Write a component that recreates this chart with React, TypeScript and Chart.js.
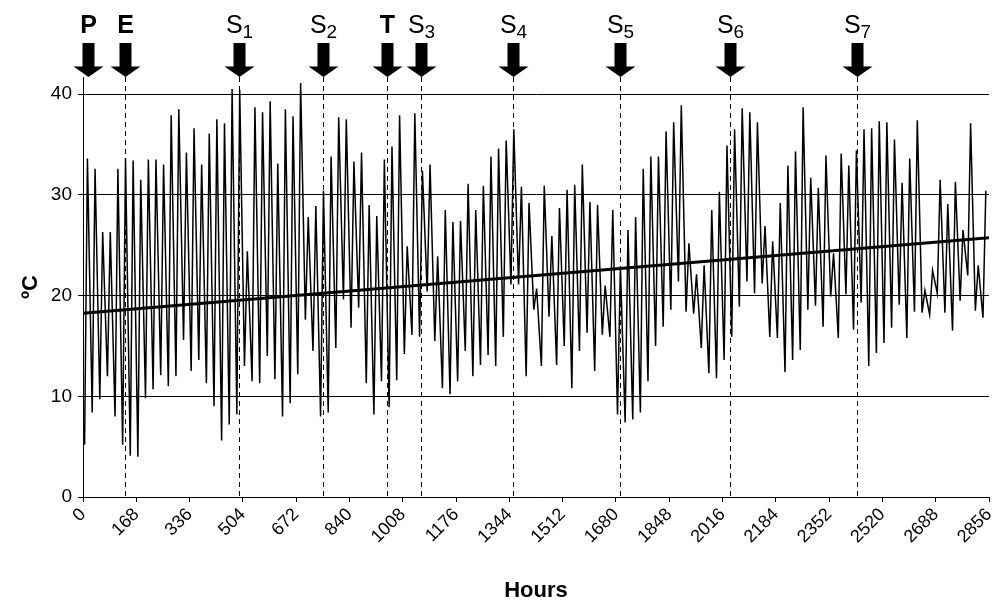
import React, { useEffect, useRef } from 'react';
import { Chart, registerables } from 'chart.js';

Chart.register(...registerables);

// Daily minimum (early morning) temperatures, ºC, day 0..118
const dayMin = [
  5.2, 8.4, 9.7, 12.0, 8.0, 5.2, 4.1, 4.0, 9.8, 10.7,
  12.1, 11.0, 12.0, 15.6, 12.5, 13.6, 11.3, 9.0, 5.6, 7.2,
  8.2, 13.0, 11.5, 11.3, 14.0, 11.7, 8.0, 9.3, 12.2, 17.6,
  14.5, 8.0, 8.4, 14.8, 19.6, 16.8, 18.8, 11.3, 8.2, 11.5,
  8.9, 11.6, 14.2, 16.1, 15.9, 20.4, 15.5, 10.8, 10.2, 11.5,
  14.5, 12.0, 13.1, 14.1, 13.0, 15.9, 21.1, 21.1, 12.0, 18.6,
  13.0, 17.9, 13.1, 15.0, 10.8, 14.5, 16.3, 12.5, 16.1, 15.9,
  8.2, 7.4, 7.7, 8.4, 11.5, 15.0, 16.9, 18.6, 21.4, 18.4,
  18.2, 14.8, 12.3, 11.8, 13.6, 15.9, 18.9, 21.4, 20.2, 21.2,
  15.9, 15.8, 12.4, 13.6, 14.6, 18.6, 19.0, 16.9, 19.9, 15.8,
  20.1, 16.6, 19.3, 13.0, 14.3, 15.3, 16.8, 19.1, 15.8, 18.4,
  18.3, 18.1, 20.2, 18.3, 16.5, 19.5, 22.0, 18.5, 17.8,
];

// Daily maximum (afternoon) temperatures, ºC, day 0..118
const dayMax = [
  33.6, 32.6, 26.3, 26.3, 32.6, 33.6, 33.4, 31.5, 33.5, 33.5,
  33.0, 37.9, 38.5, 34.2, 36.6, 33.0, 36.1, 37.5, 37.1, 40.5,
  40.4, 24.4, 38.7, 38.2, 39.3, 33.1, 38.5, 37.8, 41.1, 27.8,
  28.9, 30.4, 33.8, 37.7, 37.5, 33.3, 34.2, 29.0, 27.9, 33.5,
  34.8, 37.9, 24.9, 38.1, 32.4, 33.0, 23.9, 28.5, 27.3, 27.4,
  31.1, 28.5, 30.9, 33.8, 34.6, 35.4, 36.5, 30.8, 29.2, 20.7,
  30.9, 25.9, 28.7, 30.5, 31.0, 33.0, 29.3, 29.0, 21.0, 28.5,
  22.9, 26.5, 27.8, 32.6, 33.8, 33.8, 36.3, 37.2, 38.9, 25.2,
  22.1, 23.0, 28.5, 30.3, 34.9, 36.5, 38.6, 38.2, 37.2, 26.9,
  25.4, 29.2, 32.9, 34.3, 38.7, 31.7, 30.7, 33.9, 24.2, 34.1,
  32.9, 34.4, 36.5, 36.6, 37.3, 37.2, 35.5, 31.2, 33.6, 37.4,
  20.5, 22.5, 31.5, 29.1, 31.3, 26.5, 37.1, 23.0, 30.4,
];

const minHourOfDay = 5;
const maxHourOfDay = 14;

// Linear trend line endpoints (hours, ºC)
const trendHours = [0, 2856];
const trendValues = [18.25, 25.75];

// Event markers
const markerNames = ['P', 'E', 'S', 'S', 'T', 'S', 'S', 'S', 'S', 'S'];
const markerSubs = ['', '', '1', '2', '', '3', '4', '5', '6', '7'];
const markerHours = [17, 132, 493, 758, 959, 1066, 1355, 1692, 2039, 2441];
const markerDashed = [false, true, true, true, true, true, true, true, true, true];

const xMin = 0;
const xMax = 2856;
const xStep = 168;
const yMin = 0;
const yMax = 41.7;
const yStep = 10;

const FONT = '"Liberation Sans", Arial, Helvetica, sans-serif';

const markerPlugin = {
  id: 'markers',
  beforeDatasetsDraw(chart: any) {
    const { ctx, chartArea, scales } = chart;
    ctx.save();
    ctx.strokeStyle = '#000';
    ctx.lineWidth = 1;
    ctx.setLineDash([5, 4]);
    markerHours.forEach((h, i) => {
      if (!markerDashed[i]) return;
      const x = Math.round(scales.x.getPixelForValue(h)) + 0.5;
      ctx.beginPath();
      ctx.moveTo(x, chartArea.top);
      ctx.lineTo(x, chartArea.bottom);
      ctx.stroke();
    });
    ctx.restore();
  },
  afterDatasetsDraw(chart: any) {
    const { ctx, chartArea, scales } = chart;
    const top = chartArea.top;
    ctx.save();
    ctx.fillStyle = '#000';
    markerHours.forEach((h, i) => {
      const x = Math.round(scales.x.getPixelForValue(h)) + 0.5;
      ctx.fillRect(x - 6, top - 34, 12, 24);
      ctx.beginPath();
      ctx.moveTo(x - 15, top - 10.5);
      ctx.lineTo(x + 15, top - 10.5);
      ctx.lineTo(x, top);
      ctx.closePath();
      ctx.fill();
      const sub = markerSubs[i];
      const bold = sub === '';
      const mainFont = `${bold ? 'bold ' : ''}25px ${FONT}`;
      const subFont = `19px ${FONT}`;
      ctx.font = mainFont;
      const w1 = ctx.measureText(markerNames[i]).width;
      ctx.font = subFont;
      const w2 = sub ? ctx.measureText(sub).width : 0;
      const start = x - (w1 + w2) / 2;
      ctx.textAlign = 'left';
      ctx.textBaseline = 'alphabetic';
      ctx.font = mainFont;
      ctx.fillText(markerNames[i], start, top - 44);
      if (sub) {
        ctx.font = subFont;
        ctx.fillText(sub, start + w1, top - 39.5);
      }
    });
    ctx.restore();
  },
};

export default function App() {
  const canvasRef = useRef<HTMLCanvasElement | null>(null);

  useEffect(() => {
    document.body.style.margin = '0';
    const canvas = canvasRef.current;
    if (!canvas) return;

    const series: { x: number; y: number }[] = [];
    for (let d = 0; d < dayMin.length; d++) {
      series.push({ x: d * 24 + minHourOfDay, y: dayMin[d] });
      series.push({ x: d * 24 + maxHourOfDay, y: dayMax[d] });
    }
    const trend = trendHours.map((h, i) => ({ x: h, y: trendValues[i] }));

    const chart = new Chart(canvas, {
      type: 'line',
      data: {
        datasets: [
          {
            data: trend,
            borderColor: '#000',
            borderWidth: 3,
            pointRadius: 0,
            tension: 0,
            order: 0,
          },
          {
            data: series,
            borderColor: '#000',
            borderWidth: 1.5,
            pointRadius: 0,
            tension: 0,
            order: 1,
          },
        ],
      },
      options: {
        animation: false,
        responsive: false,
        maintainAspectRatio: false,
        layout: { padding: { top: 77, right: 4, bottom: 0, left: 0 } },
        plugins: {
          legend: { display: false },
          tooltip: { enabled: false },
        },
        scales: {
          x: {
            type: 'linear',
            min: xMin,
            max: xMax,
            afterFit: (scale: any) => {
              scale.height = 103;
              scale.paddingLeft = 0;
              scale.paddingRight = 0;
            },
            ticks: {
              stepSize: xStep,
              autoSkip: false,
              maxRotation: 45,
              minRotation: 45,
              color: '#000',
              padding: 2,
              font: { family: FONT, size: 18 },
              callback: (v: any) => String(v),
            },
            grid: {
              drawOnChartArea: false,
              drawTicks: true,
              tickLength: 5,
              color: '#000',
            },
            border: { color: '#000', width: 1 },
            title: {
              display: true,
              text: 'Hours',
              color: '#000',
              font: { family: FONT, size: 22, weight: 'bold', lineHeight: 0.8 },
              padding: { top: 0, bottom: 0 },
            },
          },
          y: {
            type: 'linear',
            min: yMin,
            max: yMax,
            afterFit: (scale: any) => {
              scale.width = 83;
            },
            ticks: {
              stepSize: yStep,
              includeBounds: false,
              color: '#000',
              padding: 6,
              font: { family: FONT, size: 19 },
            },
            grid: {
              color: '#000',
              lineWidth: 1,
              drawTicks: true,
              tickLength: 5,
            },
            border: { color: '#000', width: 1 },
            title: {
              display: true,
              text: 'ºC',
              color: '#000',
              font: { family: FONT, size: 22, weight: 'bold', lineHeight: 1 },
              padding: { top: 20, bottom: 0 },
            },
          },
        },
      },
      plugins: [markerPlugin],
    });

    return () => chart.destroy();
  }, []);

  return (
    <div style={{ width: 993, height: 600 }}>
      <canvas ref={canvasRef} width={993} height={600} style={{ display: 'block' }} />
    </div>
  );
}
